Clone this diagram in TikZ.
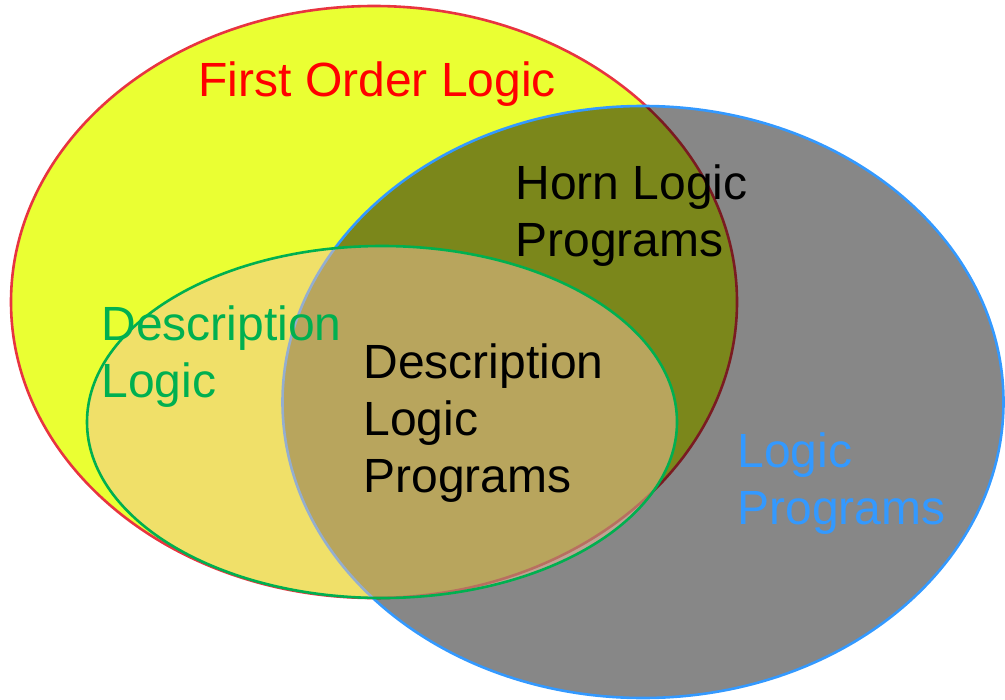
\documentclass[tikz,border=0pt]{standalone}
\usepackage{fontspec}
\setmainfont{Liberation Sans}
\usetikzlibrary{shapes.geometric}
\definecolor{folfill}{RGB}{234,255,51}
\definecolor{folline}{RGB}{232,52,64}
\definecolor{lpline}{RGB}{51,153,255}
\definecolor{dlfill}{RGB}{246,195,160}
\definecolor{dlline}{RGB}{0,176,80}
\begin{document}
\begin{tikzpicture}[x=0.5pt,y=-0.5pt,
  set/.style={ellipse,inner sep=0,line width=1.3pt},
  lbl/.style={anchor=north west,inner sep=0,align=left,font=\fontsize{24}{28.5}\selectfont}]
\useasboundingbox (0,0) rectangle (1005,700);
\node[set,draw=folline,fill=folfill,minimum width=363pt,minimum height=296pt](fol) at (374,302){};
\node[set,draw=lpline,fill=black,fill opacity=0.47,minimum width=360.5pt,minimum height=296pt](lp) at (643,402){};
\node[set,draw=dlline,fill=dlfill,fill opacity=0.5,minimum width=295pt,minimum height=176pt](dl) at (382,422){};
\node[lbl,text=red](folname) at (198,61){First Order Logic};
\node[lbl](horn) at (515,164){Horn Logic\\Programs};
\node[lbl,text=dlline](dlname) at (101,305){Description\\Logic};
\node[lbl](dlp) at (363,343){Description\\Logic\\Programs};
\node[lbl,text=lpline](lpname) at (737,432){Logic\\Programs};
\end{tikzpicture}
\end{document}
